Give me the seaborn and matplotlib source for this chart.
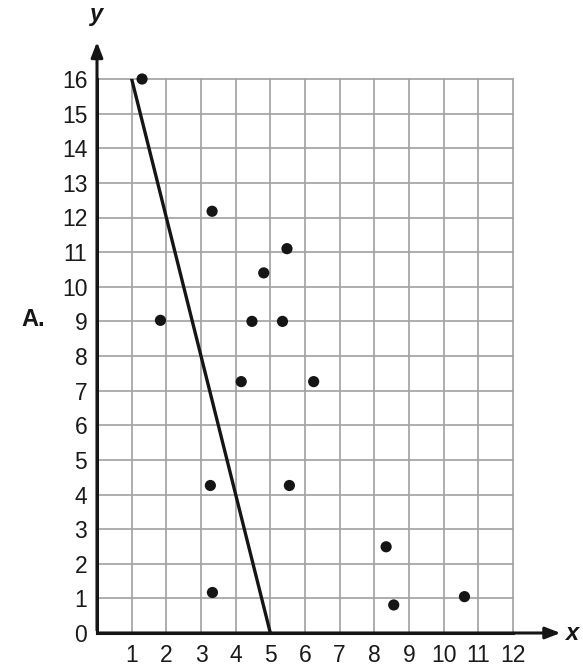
import matplotlib
matplotlib.use("Agg")
import matplotlib.pyplot as plt
import seaborn as sns
import pandas as pd

# scatter points
point_x = [1.30, 3.32, 5.48, 4.81, 1.83, 4.47, 5.35, 4.16, 6.25, 3.27, 5.55, 3.33, 8.34, 8.56, 10.6]
point_y = [16.0, 12.18, 11.1, 10.4, 9.03, 9.0, 9.0, 7.26, 7.26, 4.26, 4.26, 1.17, 2.49, 0.81, 1.05]

# line of fit
line_x = [1, 5]
line_y = [16, 0]

x_ticks = list(range(1, 13))
y_ticks = list(range(0, 17))

sns.set_style("white")
plt.rcParams['font.family'] = ['Liberation Sans', 'DejaVu Sans']

W, H = 583, 671
fig = plt.figure(figsize=(W / 100, H / 100), dpi=100)
ax = fig.add_axes([97 / W, (H - 633) / H, (513 - 97) / W, (633 - 79) / H])

pts = pd.DataFrame({"x": point_x, "y": point_y})
ln = pd.DataFrame({"x": line_x, "y": line_y})

sns.lineplot(data=ln, x="x", y="y", ax=ax, color="#151515", linewidth=2.4, zorder=3)
sns.scatterplot(data=pts, x="x", y="y", ax=ax, color="#151515", s=65, edgecolor="none",
                zorder=4, clip_on=False)

ax.set_xlim(0, 12)
ax.set_ylim(0, 16)
ax.set_xticks(range(0, 13))
ax.set_xticklabels([""] + [str(t) for t in x_ticks])
ax.set_yticks(y_ticks)
ax.set_yticklabels([str(t) for t in y_ticks])
ax.grid(True, color="#a0a0a0", linewidth=1.2)
for gl in ax.get_xgridlines() + ax.get_ygridlines():
    gl.set_clip_on(False)
ax.set_axisbelow(True)
ax.tick_params(length=0, labelsize=16.5, colors="#1a1a1a")
ax.tick_params(axis="x", pad=8)
ax.tick_params(axis="y", pad=7)
ax.set_xlabel("")
ax.set_ylabel("")

for s in ["top", "right"]:
    ax.spines[s].set_visible(False)
for s in ["left", "bottom"]:
    ax.spines[s].set_color("#151515")
    ax.spines[s].set_linewidth(2.2)

# axis arrows
ax.annotate("", xy=(0, 17.15), xytext=(0, 0), xycoords="data",
            arrowprops=dict(arrowstyle="-|>,head_length=0.9,head_width=0.35", color="#151515", lw=2.2),
            annotation_clip=False)
ax.annotate("", xy=(13.45, 0), xytext=(0, 0), xycoords="data",
            arrowprops=dict(arrowstyle="-|>,head_length=0.9,head_width=0.35", color="#151515", lw=2.2),
            annotation_clip=False)

fig.text(97 / W, 1 - 15 / H, "y", ha="center", va="center", fontsize=17,
         fontstyle="italic", fontweight="bold", color="#151515")
fig.text(572 / W, 1 - 633 / H, "x", ha="center", va="center", fontsize=17,
         fontstyle="italic", fontweight="bold", color="#151515")
fig.text(33 / W, 1 - 320 / H, "A.", ha="center", va="center", fontsize=17,
         fontweight="bold", color="#151515")

fig.savefig("out.png", dpi=100)
